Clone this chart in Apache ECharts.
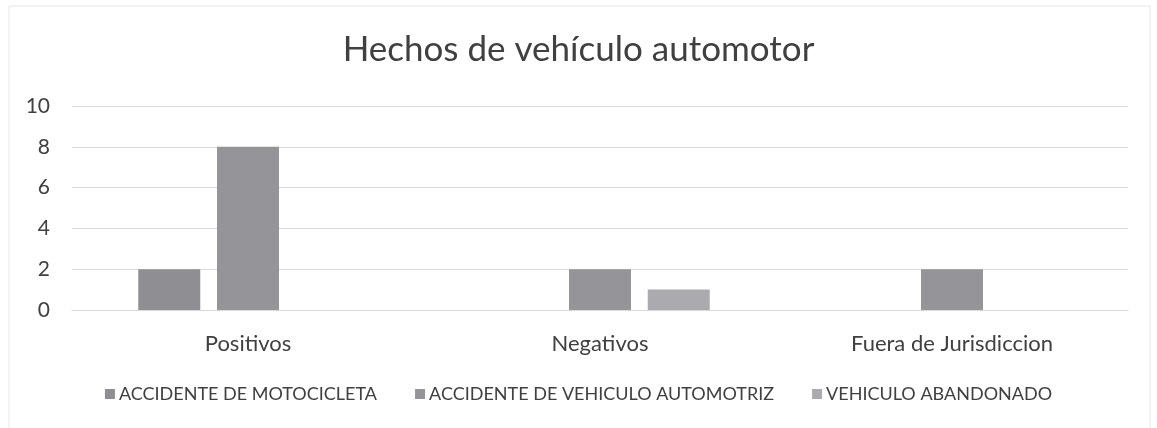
<!DOCTYPE html>
<html style="height: 100%">
<head>
    <meta charset="utf-8">
    <script type="text/javascript" src="https://cdn.jsdelivr.net/npm/echarts@6/dist/echarts.min.js"></script>
</head>
<body style="height: 100%; margin: 0; background: #fff">
<div id="container" style="width: 1157px; height: 428px"></div>
<script type="text/javascript">
    var categories = ['Positivos', 'Negativos', 'Fuera de Jurisdiccion'];
    var seriesNames = ['ACCIDENTE DE MOTOCICLETA', 'ACCIDENTE DE VEHICULO AUTOMOTRIZ', 'VEHICULO ABANDONADO'];
    var motocicleta = [2, null, null];
    var automotriz = [8, 2, 2];
    var abandonado = [null, 1, null];
    var yTicks = [0, 2, 4, 6, 8, 10];

    var colors = ['#8f8f93', '#959599', '#ababaf'];
    var font = 'Lato, "Open Sans", sans-serif';

    var myChart = echarts.init(document.getElementById('container'));
    var values = [motocicleta, automotriz, abandonado];

    var option = {
        animation: false,
        color: colors,
        title: {
            text: 'Hechos de vehículo automotor',
            left: 'center',
            top: 27,
            textStyle: {fontFamily: font, fontSize: 35, fontWeight: 'normal', color: '#404040'}
        },
        graphic: [{
            type: 'rect',
            shape: {x: 9, y: 6, width: 1141, height: 425},
            style: {fill: 'none', stroke: '#e6e6e6', lineWidth: 1},
            silent: true
        }],
        legend: {
            data: seriesNames,
            top: 380,
            left: 'center',
            itemWidth: 10,
            itemHeight: 10,
            itemGap: 38,
            icon: 'rect',
            textStyle: {fontFamily: font, fontSize: 18, color: '#404040', padding: [0, 0, 0, -1]}
        },
        grid: {left: 72, right: 29, top: 106, bottom: 118},
        xAxis: {
            type: 'category',
            data: categories,
            axisLine: {lineStyle: {color: '#d9d9d9'}},
            axisTick: {show: false},
            axisLabel: {fontFamily: font, fontSize: 22, color: '#404040', margin: 23}
        },
        yAxis: {
            type: 'value',
            min: yTicks[0],
            max: yTicks[yTicks.length - 1],
            interval: 2,
            axisLine: {show: false},
            axisTick: {show: false},
            splitLine: {lineStyle: {color: '#d9d9d9'}},
            axisLabel: {fontFamily: font, fontSize: 21, color: '#404040', margin: 22}
        },
        series: seriesNames.map(function (name, i) {
            return {
                name: name,
                type: 'bar',
                data: values[i],
                barWidth: 62,
                barGap: '27%',
                itemStyle: {color: colors[i]}
            };
        })
    };
    myChart.setOption(option);
</script>
</body>
</html>
